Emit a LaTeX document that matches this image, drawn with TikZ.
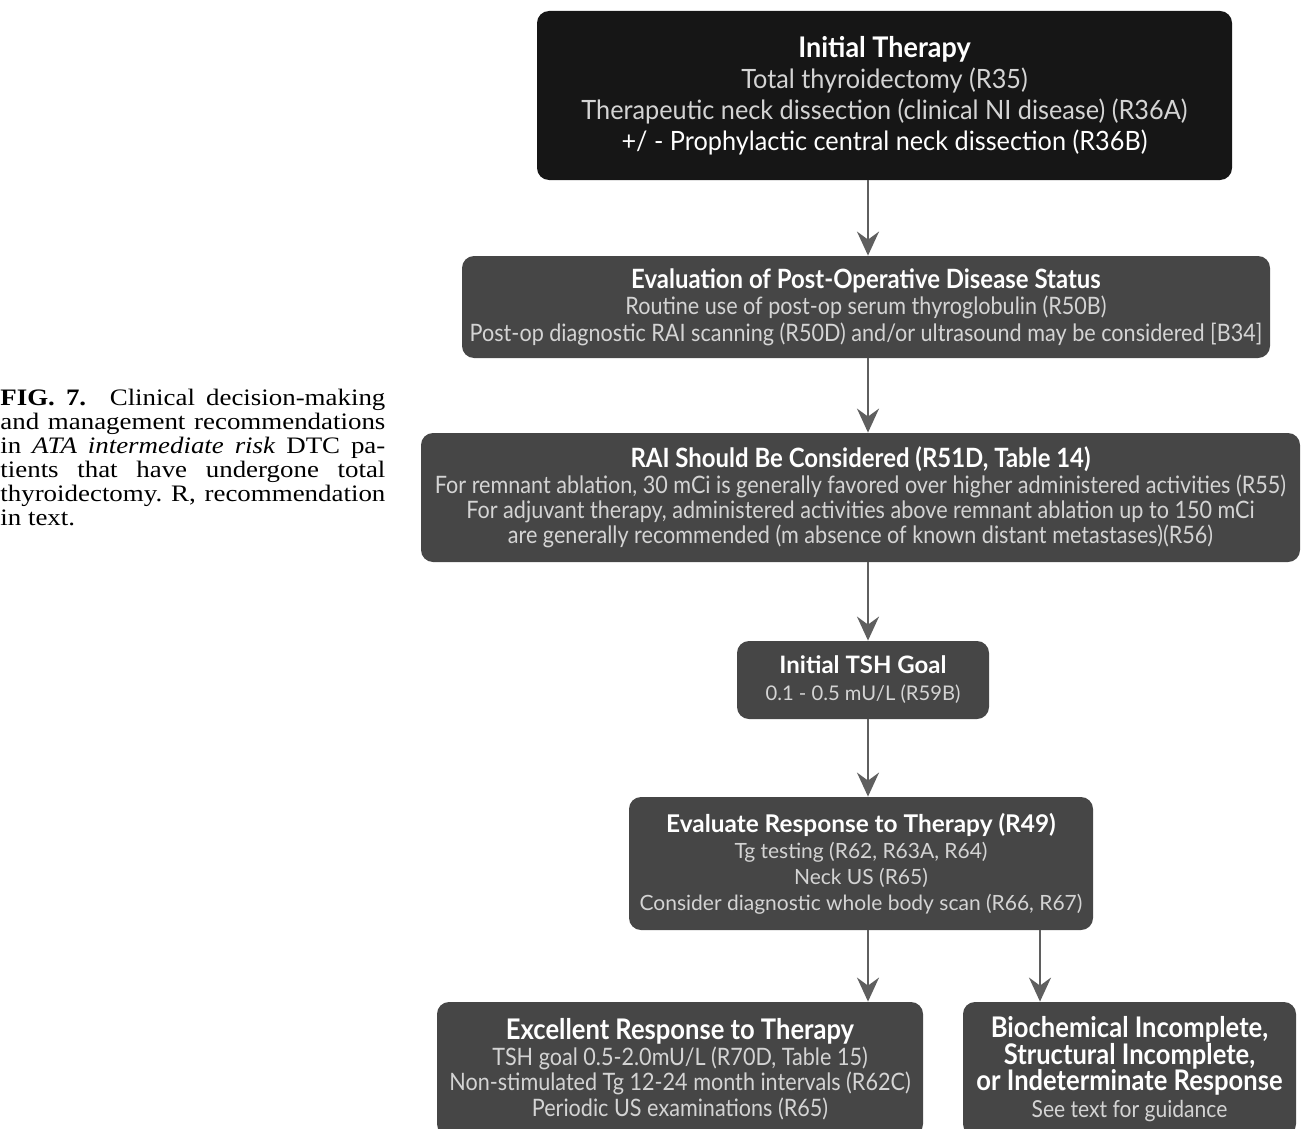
\documentclass[tikz,border=0pt]{standalone}
\usepackage{fontspec}
\usetikzlibrary{positioning, arrows.meta}
\newfontfamily\lato{Lato}
\newfontfamily\latotop[FakeStretch=0.95]{Lato}
\newfontfamily\latocond[FakeStretch=0.9]{Lato}
\newfontfamily\capserif[FakeStretch=1.14]{Liberation Serif}
\definecolor{boxblack}{RGB}{22,22,22}
\definecolor{boxgray}{RGB}{70,70,70}
\definecolor{bodygray}{RGB}{212,212,212}
\definecolor{arrgray}{RGB}{95,95,95}
\newcommand{\headline}[2]{{\fontsize{#1}{#1}\selectfont\bfseries\color{white}#2}}

\begin{document}
\begin{tikzpicture}[x=0.5pt, y=-0.5pt,
  topb/.style={fill=boxblack, rounded corners=6pt, text=bodygray, align=center, inner sep=0pt,
               minimum width=347.5pt, minimum height=84.5pt, font=\latotop\fontsize{13.3}{15.5}\selectfont},
  stepb/.style={fill=boxgray, rounded corners=6pt, text=bodygray, align=center, inner sep=0pt},
  arr/.style={draw=arrgray, line width=1pt, -{Stealth[length=12pt, width=11pt, inset=4pt]}},
]
\useasboundingbox (0,0) rectangle (1306,1129);

% Caption
\node[anchor=north west, text width=192.5pt, inner sep=0pt, align=justify,
      font=\capserif\fontsize{11.8}{12}\selectfont\frenchspacing] (caption) at (0,389)
  {\textbf{FIG. 7.}\quad Clinical decision-making\linebreak
   and management recommendations\linebreak
   in \textit{ATA intermediate risk} DTC pa-\linebreak
   tients that have undergone total\linebreak
   thyroidectomy. R, recommendation\linebreak
   in text.};

% Initial therapy
\node[topb] (init) at (884.5, 95.5)
  {\headline{14.2}{Initial Therapy}\\
   Total thyroidectomy (R35)\\
   Therapeutic neck dissection (clinical NI disease) (R36A)\\
   {\color{white}+/ - Prophylactic central neck dissection (R36B)}};

% Post-operative status
\node[stepb, minimum width=404pt, minimum height=51pt,
      font=\latocond\fontsize{12}{13.2}\selectfont] (postop) at (866, 307)
  {\headline{13.3}{Evaluation of Post-Operative Disease Status}\\
   Routine use of post-op serum thyroglobulin (R50B)\\
   Post-op diagnostic RAI scanning (R50D) and/or ultrasound may be considered [B34]};

% RAI
\node[stepb, minimum width=439.5pt, minimum height=64.5pt,
      font=\latocond\fontsize{12}{12.6}\selectfont] (rai) at (860.5, 497.5)
  {\headline{13.3}{RAI Should Be Considered (R51D, Table 14)}\\
   For remnant ablation, 30 mCi is generally favored over higher administered activities (R55)\\
   For adjuvant therapy, administered activities above remnant ablation up to 150 mCi\\
   are generally recommended (m absence of known distant metastases)(R56)};

% TSH goal
\node[stepb, minimum width=126pt, minimum height=39pt,
      font=\lato\fontsize{10.1}{13.5}\selectfont] (tsh) at (863, 680)
  {\headline{12}{Initial TSH Goal}\\
   0.1 - 0.5 mU/L (R59B)};

% Response evaluation
\node[stepb, minimum width=232pt, minimum height=66.5pt,
      font=\lato\fontsize{10.5}{12.95}\selectfont] (evalresp) at (861, 863.5)
  {\headline{12.2}{Evaluate Response to Therapy (R49)}\\
   Tg testing (R62, R63A, R64)\\
   Neck US (R65)\\
   Consider diagnostic whole body scan (R66, R67)};

% Outcomes (cut by the page edge)
\node[stepb, minimum width=243pt, minimum height=67pt,
      font=\latocond\fontsize{12}{12.8}\selectfont] (excellent) at (680, 1069)
  {\headline{14.2}{Excellent Response to Therapy}\\
   TSH goal 0.5-2.0mU/L (R70D, Table 15)\\
   Non-stimulated Tg 12-24 month intervals (R62C)\\
   Periodic US examinations (R65)};
\node[stepb, minimum width=166.5pt, minimum height=67pt,
      font=\latocond\fontsize{11.7}{13.4}\selectfont] (noncomplete) at (1129.5, 1069)
  {\headline{14.2}{Biochemical Incomplete,}\\
   \headline{14.2}{Structural Incomplete,}\\
   \headline{14.2}{or Indeterminate Response}\\
   See text for guidance};

% Arrows
\coordinate (spine) at (868, 0);
\coordinate (branch) at (1040, 0);
\draw[arr] (init.south -| spine) -- (postop.north -| spine);
\draw[arr] (postop.south -| spine) -- (rai.north -| spine);
\draw[arr] (rai.south -| spine) -- (tsh.north -| spine);
\draw[arr] (tsh.south -| spine) -- (evalresp.north -| spine);
\draw[arr] (evalresp.south -| spine) -- (excellent.north -| spine);
\draw[arr] (evalresp.south -| branch) -- (noncomplete.north -| branch);

\end{tikzpicture}
\end{document}
